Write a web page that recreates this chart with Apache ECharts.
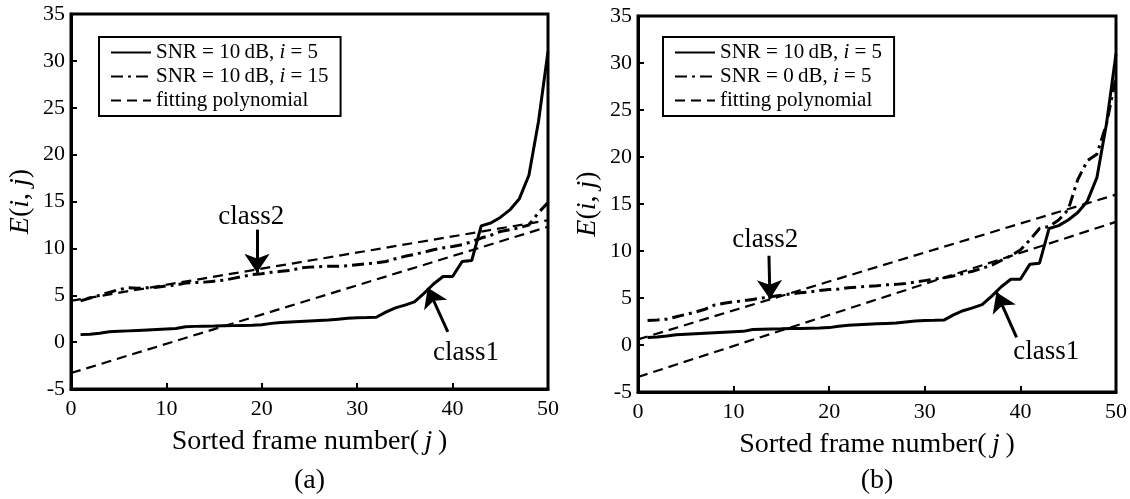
<!DOCTYPE html>
<html>
<head>
<meta charset="utf-8">
<title>Sorted frame energy</title>
<script src="https://cdn.jsdelivr.net/npm/echarts@6/dist/echarts.min.js"></script>
<style>
  html, body { margin: 0; padding: 0; background: #fff; }
  #chart { width: 1130px; height: 499px; }
</style>
</head>
<body>
<div id="chart"></div>
<script>
// Sorted frame index j
const frames = [1, 2, 3, 4, 5, 6, 7, 8, 9, 10,
  11, 12, 13, 14, 15, 16, 17, 18, 19, 20,
  21, 22, 23, 24, 25, 26, 27, 28, 29, 30,
  31, 32, 33, 34, 35, 36, 37, 38, 39, 40,
  41, 42, 43, 44, 45, 46, 47, 48, 49, 50];

// E(i, j), SNR = 10 dB, i = 5 (shown in both panels)
const energy10dB_i5 = [0.8, 0.85, 0.95, 1.1, 1.15, 1.2, 1.25, 1.3, 1.35, 1.4,
  1.45, 1.65, 1.68, 1.7, 1.72, 1.75, 1.76, 1.78, 1.8, 1.85,
  2.0, 2.1, 2.15, 2.2, 2.25, 2.3, 2.35, 2.45, 2.55, 2.6,
  2.62, 2.65, 3.2, 3.65, 3.95, 4.3, 5.2, 6.2, 7.0, 7.0,
  8.6, 8.7, 12.4, 12.7, 13.3, 14.1, 15.3, 17.8, 23.5, 31.0];

// E(i, j), SNR = 10 dB, i = 15
const energy10dB_i15 = [4.4, 4.7, 5.0, 5.3, 5.6, 5.8, 5.75, 5.8, 5.85, 6.0,
  6.1, 6.3, 6.35, 6.4, 6.5, 6.6, 6.8, 7.0, 7.2, 7.3,
  7.45, 7.55, 7.65, 7.9, 8.0, 8.05, 8.1, 8.1, 8.15, 8.25,
  8.35, 8.45, 8.6, 8.9, 9.15, 9.35, 9.6, 9.85, 10.05, 10.2,
  10.4, 10.7, 11.1, 11.4, 11.8, 12.0, 12.2, 12.5, 13.8, 14.9];

// E(i, j), SNR = 0 dB, i = 5
const energy0dB_i5 = [2.6, 2.65, 2.75, 3.0, 3.25, 3.5, 3.8, 4.25, 4.45, 4.6,
  4.7, 4.85, 5.0, 5.15, 5.3, 5.45, 5.55, 5.65, 5.8, 5.9,
  5.95, 6.1, 6.15, 6.25, 6.3, 6.4, 6.45, 6.55, 6.7, 6.85,
  7.0, 7.15, 7.35, 7.6, 7.85, 8.15, 8.5, 9.0, 9.5, 10.1,
  11.2, 12.4, 12.6, 13.3, 14.4, 17.6, 19.6, 20.3, 23.5, 28.5];

// Fitted first-order polynomials, [j, E] at the two ends
const fitA_class1 = [[0, -3.3], [50, 12.3]];
const fitA_class2 = [[0, 4.4], [50, 13.0]];
const fitB_class1 = [[0, -3.4], [50, 13.1]];
const fitB_class2 = [[0, 0.6], [50, 16.0]];

// Axis ticks
const xTickLabels = [0, 10, 20, 30, 40, 50];
const yTickLabels = [-5, 0, 5, 10, 15, 20, 25, 30, 35];

// Class annotations: [text, j, E] and arrows [[j0, E0], [j1, E1]]
const classTextA = [['class2', 18.9, 13.4], ['class1', 41.4, -1.2]];
const classArrowA = [[[19.5, 12.0], [19.5, 7.4]], [[39.5, 1.1], [37.4, 5.8]]];
const classTextB = [['class2', 13.3, 11.2], ['class1', 42.7, -0.7]];
const classArrowB = [[[13.7, 9.5], [13.8, 4.9]], [[39.6, 0.8], [37.5, 5.6]]];

// Legend entries
const legendA = ['SNR = 10\u2009dB, i = 5', 'SNR = 10\u2009dB, i = 15', 'fitting polynomial'];
const legendB = ['SNR = 10\u2009dB, i = 5', 'SNR = 0\u2009dB, i = 5', 'fitting polynomial'];
const panelTitles = ['(a)', '(b)'];

const FONT = "'Liberation Serif', 'DejaVu Serif', serif";
const INK = '#000';

const pairs = (xs, ys) => xs.map((x, k) => [x, ys[k]]);

const grids = [
  { left: 71, top: 14, width: 477, height: 375 },
  { left: 638, top: 16, width: 478, height: 376 }
];

const axisNameStyle = {
  color: INK,
  rich: {
    n: { fontFamily: FONT, fontSize: 28, color: INK },
    it: { fontFamily: FONT, fontSize: 28, color: INK, fontStyle: 'italic' }
  }
};

const frameLine = { show: true, onZero: false, lineStyle: { color: INK, width: 3 } };
const innerTick = { show: true, inside: true, length: 6, lineStyle: { color: INK, width: 2 } };

function makeX(gi) {
  return {
    type: 'value', gridIndex: gi, position: 'bottom',
    min: xTickLabels[0], max: xTickLabels[xTickLabels.length - 1], interval: 10,
    axisLine: frameLine,
    axisTick: innerTick,
    splitLine: { show: false },
    axisLabel: { color: INK, fontFamily: FONT, fontSize: 22, margin: 9 },
    name: '{n|Sorted frame number(\u2009}{it|j}{n|\u2009)}',
    nameLocation: 'middle', nameGap: 39,
    nameTextStyle: axisNameStyle
  };
}

function makeY(gi) {
  return {
    type: 'value', gridIndex: gi, position: 'left',
    min: yTickLabels[0], max: yTickLabels[yTickLabels.length - 1], interval: 5,
    axisLine: frameLine,
    axisTick: innerTick,
    splitLine: { show: false },
    axisLabel: { color: INK, fontFamily: FONT, fontSize: 22, margin: 6 },
    name: '{it|E}{n|(}{it|i}{n|, }{it|j}{n|)}',
    nameLocation: 'middle', nameGap: 36,
    nameTextStyle: axisNameStyle
  };
}

const solidStyle = { color: INK, width: 3, type: 'solid' };
const dashDotStyle = { color: INK, width: 3, type: [12, 5, 3, 5] };
const dashedStyle = { color: INK, width: 2.2, type: [10, 6] };

function annotations(texts, arrows) {
  return {
    markLine: {
      silent: true, animation: false,
      symbol: ['none', 'arrow'], symbolSize: 19,
      label: { show: false },
      lineStyle: { color: INK, width: 3, type: 'solid' },
      emphasis: { disabled: true },
      data: arrows.map(a => [{ coord: a[0] }, { coord: a[1] }])
    },
    markPoint: {
      silent: true, animation: false,
      symbol: 'rect', symbolSize: 0,
      label: { show: true, position: 'inside', formatter: '{b}', color: INK, fontFamily: FONT, fontSize: 27 },
      data: texts.map(t => ({ name: t[0], coord: [t[1], t[2]] }))
    }
  };
}

function line(name, gi, data, style, extra) {
  return Object.assign({
    type: 'line', name: name, xAxisIndex: gi, yAxisIndex: gi,
    data: data, symbol: 'none', showSymbol: false, smooth: false,
    lineStyle: style, itemStyle: { color: INK },
    emphasis: { disabled: true }, silent: true, animation: false
  }, extra || {});
}

const series = [
  line(legendA[0], 0, pairs(frames, energy10dB_i5), solidStyle, annotations(classTextA, classArrowA)),
  line(legendA[1], 0, pairs(frames, energy10dB_i15), dashDotStyle),
  line(legendA[2], 0, fitA_class1, dashedStyle),
  line(legendA[2], 0, fitA_class2, dashedStyle),
  line(legendB[0], 1, pairs(frames, energy10dB_i5), solidStyle, annotations(classTextB, classArrowB)),
  line(legendB[1], 1, pairs(frames, energy0dB_i5), dashDotStyle),
  line(legendB[2], 1, fitB_class1, dashedStyle),
  line(legendB[2], 1, fitB_class2, dashedStyle)
];

function richName(name) {
  const k = name.indexOf(', i');
  if (k < 0) return '{n|' + name + '}';
  return '{n|' + name.slice(0, k + 2) + '}{it|i}{n|' + name.slice(k + 3) + '}';
}

function makeLegend(names, left) {
  return {
    data: names, orient: 'vertical', left: left, top: 37,
    selectedMode: false,
    borderColor: INK, borderWidth: 2, borderRadius: 0,
    padding: [4, 12, 4, 11], itemGap: 1,
    itemWidth: 40, itemHeight: 14,
    itemStyle: { opacity: 0 },
    formatter: richName,
    textStyle: {
      color: INK, fontFamily: FONT, fontSize: 21, lineHeight: 23,
      rich: {
        n: { fontFamily: FONT, fontSize: 21, color: INK, lineHeight: 23 },
        it: { fontFamily: FONT, fontSize: 21, color: INK, fontStyle: 'italic', lineHeight: 23 }
      }
    }
  };
}

const option = {
  backgroundColor: '#fff',
  animation: false,
  grid: grids.map(g => Object.assign({
    show: true, borderColor: INK, borderWidth: 3, backgroundColor: 'transparent',
    containLabel: false, outerBoundsMode: 'none'
  }, g)),
  xAxis: [makeX(0), makeX(1)],
  yAxis: [makeY(0), makeY(1)],
  legend: [makeLegend(legendA, 99), makeLegend(legendB, 663)],
  graphic: panelTitles.map((t, k) => ({
    type: 'text', silent: true,
    style: {
      text: t, x: grids[k].left + grids[k].width / 2, y: 481,
      align: 'center', verticalAlign: 'middle',
      font: '28px ' + FONT, fill: INK
    }
  })),
  series: series
};

const chart = echarts.init(document.getElementById('chart'), null, { renderer: 'canvas' });
chart.setOption(option);
</script>
</body>
</html>
